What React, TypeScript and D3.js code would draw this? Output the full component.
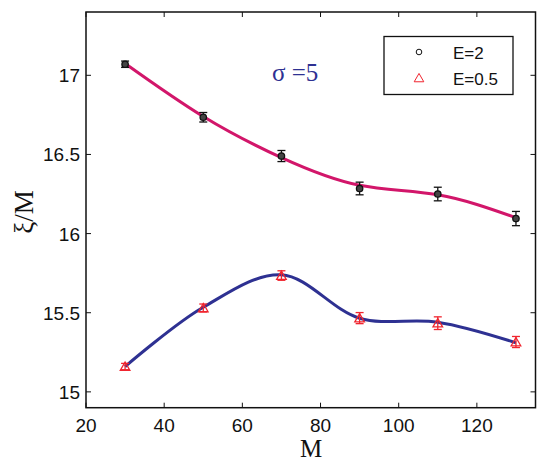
import React from "react";
import * as d3 from "d3";

const M = [30, 50, 70, 90, 110, 130];
const xiE2 = [17.07, 16.735, 16.49, 16.285, 16.25, 16.095];
const errE2 = [0.02, 0.03, 0.035, 0.04, 0.043, 0.045];
const fitE2 = [17.075, 16.74, 16.48, 16.305, 16.245, 16.1];
const xiE05 = [15.16, 15.53, 15.735, 15.466, 15.434, 15.315];
const errE05 = [0.02, 0.025, 0.03, 0.035, 0.04, 0.035];
const fitE05 = [15.16, 15.535, 15.74, 15.465, 15.44, 15.31];
const xTicks = [20, 40, 60, 80, 100, 120];
const yTicks = [15, 15.5, 16, 16.5, 17];
const legendLabels = ["E=2", "E=0.5"];

const W = 537, H = 461;
const L = 86, R = 535.5, T = 12, B = 407.7;

export default function App() {
  const x = d3.scaleLinear().domain([20, 135]).range([L, R]);
  const y = d3.scaleLinear().domain([14.9, 17.4]).range([B, T]);
  const lineNat = d3
    .line<number>()
    .x((_, i) => x(M[i]))
    .y((d) => y(d))
    .curve(d3.curveNatural);
  const lineCR = d3
    .line<number>()
    .x((_, i) => x(M[i]))
    .y((d) => y(d))
    .curve(d3.curveCatmullRom.alpha(0.5));
  const tri = d3.symbol().type(d3.symbolTriangle).size(40);
  const tk = 5;
  const cap = 4;
  return (
    <svg
      width={W}
      height={H}
      style={{ position: "absolute", left: 0, top: 0, background: "#fff" }}
      fontFamily="'Liberation Sans', Arial, sans-serif"
    >
      <rect x={0} y={0} width={W} height={H} fill="#fff" />
      {/* fitted curves */}
      <path d={lineNat(fitE2) || ""} fill="none" stroke="#D2166A" strokeWidth={3} />
      <path d={lineCR(fitE05) || ""} fill="none" stroke="#2E3192" strokeWidth={3} />
      {/* E=2 markers */}
      {M.map((m, i) => (
        <g key={"a" + i} stroke="#111" strokeWidth={1.3}>
          <line x1={x(m)} x2={x(m)} y1={y(xiE2[i] - errE2[i])} y2={y(xiE2[i] + errE2[i])} />
          <line x1={x(m) - cap} x2={x(m) + cap} y1={y(xiE2[i] - errE2[i])} y2={y(xiE2[i] - errE2[i])} />
          <line x1={x(m) - cap} x2={x(m) + cap} y1={y(xiE2[i] + errE2[i])} y2={y(xiE2[i] + errE2[i])} />
          <circle cx={x(m)} cy={y(xiE2[i])} r={3.2} fill="#444" />
        </g>
      ))}
      {/* E=0.5 markers */}
      {M.map((m, i) => (
        <g key={"b" + i} stroke="#F0252F" strokeWidth={1.3}>
          <line x1={x(m)} x2={x(m)} y1={y(xiE05[i] - errE05[i])} y2={y(xiE05[i] + errE05[i])} />
          <line x1={x(m) - cap} x2={x(m) + cap} y1={y(xiE05[i] - errE05[i])} y2={y(xiE05[i] - errE05[i])} />
          <line x1={x(m) - cap} x2={x(m) + cap} y1={y(xiE05[i] + errE05[i])} y2={y(xiE05[i] + errE05[i])} />
          <path d={tri() || ""} transform={`translate(${x(m)},${y(xiE05[i]) + 1})`} fill="none" />
        </g>
      ))}
      {/* frame */}
      <rect x={L} y={T} width={R - L} height={B - T} fill="none" stroke="#111" strokeWidth={1.5} />
      {xTicks.map((t) => (
        <g key={"xt" + t}>
          <line x1={x(t)} x2={x(t)} y1={B} y2={B - tk} stroke="#111" />
          <line x1={x(t)} x2={x(t)} y1={T} y2={T + tk} stroke="#111" />
          <text x={x(t)} y={432} textAnchor="middle" fontSize={19} fill="#111">
            {t}
          </text>
        </g>
      ))}
      {yTicks.map((t) => (
        <g key={"yt" + t}>
          <line x1={L} x2={L + tk} y1={y(t)} y2={y(t)} stroke="#111" />
          <line x1={R} x2={R - tk} y1={y(t)} y2={y(t)} stroke="#111" />
          <text x={80} y={y(t) + 7} textAnchor="end" fontSize={19} fill="#111">
            {t}
          </text>
        </g>
      ))}
      {/* axis labels */}
      <text x={311} y={457} textAnchor="middle" fontSize={25} fontFamily="'Liberation Serif', 'DejaVu Serif', serif" fill="#111">
        M
      </text>
      <text
        transform={`translate(33,212) rotate(-90)`}
        textAnchor="middle"
        fontSize={27}
        fontFamily="'Liberation Serif', 'DejaVu Serif', serif"
        fill="#111"
      >
        ξ/M
      </text>
      <text x={272} y={81} fontSize={25} fontFamily="'Liberation Serif', 'DejaVu Serif', serif" fill="#2E3192">
        σ =5
      </text>
      {/* legend */}
      <rect x={384} y={36.5} width={129} height={58} fill="#fff" stroke="#111" strokeWidth={1.3} />
      <circle cx={419} cy={52} r={2.8} fill="none" stroke="#111" strokeWidth={1} />
      <path d={tri() || ""} transform="translate(419,79)" fill="none" stroke="#F0252F" strokeWidth={1} />
      {legendLabels.map((l, i) => (
        <text key={l} x={453} y={58.5 + i * 26} fontSize={17} fill="#111">
          {l}
        </text>
      ))}
    </svg>
  );
}
